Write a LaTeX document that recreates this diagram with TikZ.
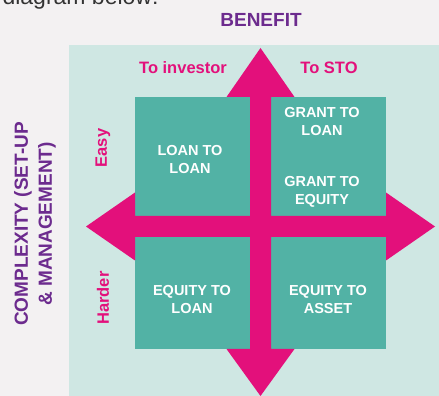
\documentclass[tikz,border=0pt]{standalone}
\usepackage{fontspec}
\setmainfont{Liberation Sans}
\usepackage{tkz-euclide}

\definecolor{pagegray}{HTML}{F3F1F2}
\definecolor{panelteal}{HTML}{CFE7E3}
\definecolor{boxteal}{HTML}{52B2A5}
\definecolor{arrowpink}{HTML}{E3107B}
\definecolor{axispurple}{HTML}{6C2B8E}
\definecolor{headgray}{HTML}{333333}

\begin{document}
\begin{tikzpicture}[x=1pt, y=1pt,
    boxtxt/.style = {text=white, font=\bfseries\fontsize{14.5}{18}\selectfont, align=center},
    sidetxt/.style = {text=arrowpink, font=\bfseries\fontsize{16.5}{20}\selectfont},
    axistxt/.style = {text=axispurple, font=\bfseries\fontsize{19}{24}\selectfont, align=center}]
    \useasboundingbox (0,0) rectangle (439,396);
    \clip (0,0) rectangle (439,396);
    \fill[pagegray] (0,0) rectangle (439,396);
    \node[anchor=base west, text=headgray, font=\fontsize{23}{27}\selectfont] (head) at (-1,391.5) {diagram below:};
    % panel and the four boxes
    \tkzDefPoints{69/0/P1, 439/351/P2}
    \fill[panelteal] (P1) rectangle (P2);
    \tkzDefPoints{135/180/TLa, 250/299/TLb, 271/180/TRa, 386/299/TRb,
                  135/47/BLa, 250/159/BLb, 271/47/BRa, 386/159/BRb}
    \fill[boxteal] (TLa) rectangle (TLb);
    \fill[boxteal] (TRa) rectangle (TRb);
    \fill[boxteal] (BLa) rectangle (BLb);
    \fill[boxteal] (BRa) rectangle (BRb);
    % the cross of four arrows
    \tkzDefPoints{260.5/348/N, 294.5/299/N1, 271/299/N2, 271/180/C1,
                  386/180/E1, 386/203.5/E2, 435/169.5/E, 386/135.5/E3, 386/159/E4,
                  271/159/C2, 271/47/S1, 294.5/47/S2, 260.5/0/S, 226.5/47/S3, 250/47/S4,
                  250/159/C3, 135/159/W1, 135/135.5/W2, 86/169.5/W, 135/203.5/W3, 135/180/W4,
                  250/180/C4, 250/299/N3, 226.5/299/N4}
    \tkzFillPolygon[fill=arrowpink](N,N1,N2,C1,E1,E2,E,E3,E4,C2,S1,S2,S,S3,S4,C3,W1,W2,W,W3,W4,C4,N3,N4)
    % labels
    \node[axistxt] (benefit) at (261,376) {BENEFIT};
    \node[axistxt, rotate=90] (complexity) at (35,172) {COMPLEXITY (SET-UP\\ \& MANAGEMENT)};
    \node[sidetxt] (investor) at (183,328) {To investor};
    \node[sidetxt] (sto) at (329,328) {To STO};
    \node[sidetxt, rotate=90] (easy) at (103,248) {Easy};
    \node[sidetxt, rotate=90] (harder) at (103,98) {Harder};
    \node[boxtxt] (loanloan) at (190,236.5) {LOAN TO\\LOAN};
    \node[boxtxt] (grantloan) at (322,274) {GRANT TO\\LOAN};
    \node[boxtxt] (grantequity) at (322,204) {GRANT TO\\EQUITY};
    \node[boxtxt] (equityloan) at (192,96) {EQUITY TO\\LOAN};
    \node[boxtxt] (equityasset) at (328,96) {EQUITY TO\\ASSET};
\end{tikzpicture}
\end{document}
